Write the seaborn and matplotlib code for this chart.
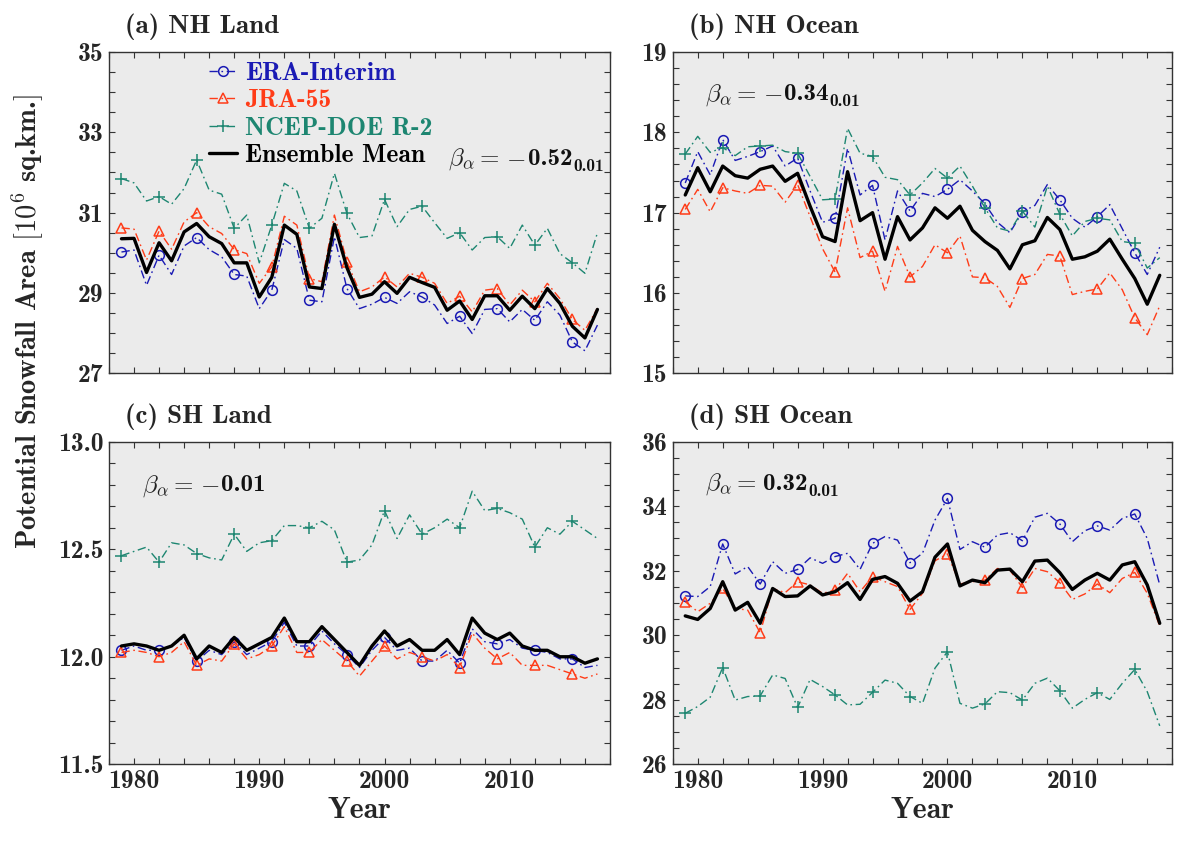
import numpy as np
import pandas as pd
import matplotlib
matplotlib.use("Agg")
import matplotlib.pyplot as plt
import seaborn as sns
from matplotlib.ticker import MultipleLocator, FormatStrFormatter, FixedLocator
from matplotlib.transforms import offset_copy

# ---------------- data ----------------
years = list(range(1979, 2018))

nh_land_era = [30.02, 30.07, 29.19, 29.94, 29.46, 30.17, 30.38, 30.08, 29.90, 29.46,
               29.42, 28.61, 29.07, 30.33, 30.11, 28.82, 28.78, 30.40, 29.11, 28.61,
               28.72, 28.89, 28.74, 29.03, 28.90, 28.70, 28.24, 28.42, 27.99, 28.59,
               28.61, 28.28, 28.59, 28.32, 28.78, 28.45, 27.78, 27.56, 28.20]
nh_land_jra = [30.62, 30.59, 29.82, 30.54, 30.09, 30.77, 31.00, 30.65, 30.48, 30.08,
               29.98, 29.24, 29.65, 30.91, 30.69, 29.36, 29.28, 30.94, 29.78, 29.03,
               29.15, 29.40, 29.15, 29.49, 29.39, 29.24, 28.74, 28.92, 28.53, 29.07,
               29.11, 28.70, 29.07, 28.78, 29.24, 28.86, 28.34, 28.07, 28.62]
nh_land_ncep = [31.85, 31.74, 31.29, 31.40, 31.21, 31.60, 32.31, 31.56, 31.46, 30.61,
                30.94, 29.75, 30.69, 31.73, 31.54, 30.61, 30.86, 31.98, 30.98, 30.38,
                30.42, 31.33, 30.65, 31.08, 31.16, 30.75, 30.36, 30.50, 30.07, 30.38,
                30.40, 30.11, 30.69, 30.19, 30.61, 29.98, 29.75, 29.49, 30.50]
nh_land_ens = [30.35, 30.36, 29.51, 30.25, 29.80, 30.52, 30.73, 30.40, 30.23, 29.75,
               29.75, 28.90, 29.39, 30.69, 30.46, 29.15, 29.11, 30.71, 29.63, 28.89,
               28.97, 29.28, 28.99, 29.39, 29.26, 29.14, 28.57, 28.80, 28.34, 28.93,
               28.93, 28.57, 28.92, 28.61, 29.11, 28.74, 28.17, 27.88, 28.59]

nh_ocean_era = [17.37, 17.76, 17.47, 17.91, 17.65, 17.70, 17.76, 17.83, 17.58, 17.68,
                17.27, 16.88, 16.93, 17.80, 17.22, 17.34, 16.66, 17.27, 17.02, 17.24,
                17.20, 17.29, 17.41, 17.27, 17.11, 16.88, 16.75, 17.01, 17.09, 17.35,
                17.16, 16.93, 16.82, 16.95, 17.10, 16.80, 16.50, 16.23, 16.57]
nh_ocean_jra = [17.04, 17.29, 17.01, 17.31, 17.27, 17.24, 17.34, 17.33, 17.13, 17.35,
                16.95, 16.55, 16.26, 17.06, 16.44, 16.52, 16.02, 16.58, 16.20, 16.33,
                16.60, 16.50, 16.71, 16.20, 16.19, 16.08, 15.82, 16.18, 16.23, 16.48,
                16.46, 15.98, 16.02, 16.05, 16.25, 16.04, 15.69, 15.48, 15.84]
nh_ocean_ncep = [17.73, 17.95, 17.75, 17.81, 17.71, 17.82, 17.83, 17.84, 17.76, 17.74,
                 17.45, 17.16, 17.17, 18.05, 17.74, 17.70, 17.44, 17.41, 17.22, 17.37,
                 17.55, 17.43, 17.58, 17.33, 17.06, 16.81, 16.77, 17.02, 16.82, 17.33,
                 16.98, 16.71, 16.89, 16.93, 16.91, 16.64, 16.62, 16.31, 16.44]
nh_ocean_ens = [17.22, 17.56, 17.26, 17.58, 17.46, 17.43, 17.54, 17.58, 17.39, 17.49,
                17.08, 16.70, 16.64, 17.51, 16.90, 17.00, 16.42, 16.95, 16.66, 16.81,
                17.06, 16.93, 17.08, 16.78, 16.64, 16.53, 16.30, 16.60, 16.65, 16.94,
                16.79, 16.42, 16.45, 16.52, 16.67, 16.42, 16.18, 15.86, 16.22]

sh_land_era = [12.03, 12.05, 12.03, 12.03, 12.05, 12.09, 11.98, 12.03, 12.01, 12.07,
               12.01, 12.04, 12.07, 12.16, 12.05, 12.05, 12.12, 12.06, 12.01, 11.95,
               12.03, 12.09, 12.03, 12.04, 11.98, 11.98, 12.03, 11.97, 12.13, 12.07,
               12.06, 12.08, 12.04, 12.03, 12.02, 11.99, 11.99, 11.95, 11.96]
sh_land_jra = [12.02, 12.03, 12.02, 12.00, 12.02, 12.07, 11.96, 11.99, 11.98, 12.06,
               11.99, 12.01, 12.05, 12.14, 12.02, 12.02, 12.08, 12.03, 11.98, 11.91,
               11.98, 12.05, 11.99, 12.02, 12.00, 11.98, 12.01, 11.95, 12.11, 12.04,
               11.99, 12.02, 11.96, 11.96, 11.96, 11.94, 11.92, 11.90, 11.92]
sh_land_ncep = [12.47, 12.49, 12.51, 12.44, 12.53, 12.52, 12.48, 12.46, 12.45, 12.57,
                12.49, 12.53, 12.54, 12.61, 12.61, 12.60, 12.63, 12.59, 12.44, 12.45,
                12.52, 12.68, 12.55, 12.66, 12.57, 12.60, 12.64, 12.60, 12.77, 12.68,
                12.69, 12.67, 12.64, 12.51, 12.60, 12.57, 12.63, 12.59, 12.55]
sh_land_ens = [12.05, 12.06, 12.05, 12.03, 12.05, 12.10, 11.99, 12.05, 12.02, 12.09,
               12.03, 12.06, 12.09, 12.18, 12.07, 12.07, 12.14, 12.08, 12.02, 11.96,
               12.05, 12.12, 12.05, 12.08, 12.03, 12.03, 12.08, 12.01, 12.18, 12.11,
               12.08, 12.11, 12.05, 12.03, 12.03, 12.00, 12.00, 11.97, 11.99]

sh_ocean_era = [31.22, 31.20, 31.51, 32.83, 31.90, 32.13, 31.59, 32.28, 31.92, 32.04,
                32.40, 32.23, 32.44, 32.54, 32.04, 32.85, 33.06, 32.95, 32.25, 32.54,
                33.57, 34.24, 32.66, 32.90, 32.73, 33.11, 33.18, 32.93, 33.66, 33.78,
                33.45, 32.90, 33.24, 33.39, 33.26, 33.62, 33.76, 33.00, 31.56]
sh_ocean_jra = [31.04, 30.73, 30.99, 31.45, 30.83, 30.78, 30.08, 31.45, 31.32, 31.66,
                31.56, 31.30, 31.40, 31.92, 31.35, 31.82, 31.66, 31.51, 30.80, 31.30,
                32.31, 32.52, 31.59, 31.66, 31.71, 32.07, 32.02, 31.48, 32.07, 31.97,
                31.63, 31.11, 31.28, 31.59, 31.32, 31.76, 31.95, 31.30, 30.29]
sh_ocean_ncep = [27.58, 27.79, 28.08, 29.00, 27.99, 28.10, 28.12, 28.77, 28.66, 27.76,
                 28.63, 28.41, 28.15, 27.84, 27.86, 28.23, 28.61, 28.51, 28.10, 27.89,
                 28.98, 29.49, 27.89, 27.74, 27.87, 28.25, 28.22, 27.99, 28.51, 28.67,
                 28.28, 27.74, 28.01, 28.22, 28.01, 28.51, 28.94, 28.25, 27.19]
sh_ocean_ens = [30.60, 30.49, 30.83, 31.66, 30.78, 31.02, 30.37, 31.45, 31.20, 31.22,
                31.53, 31.25, 31.35, 31.63, 31.11, 31.73, 31.82, 31.61, 31.06, 31.35,
                32.42, 32.83, 31.53, 31.71, 31.63, 32.02, 32.05, 31.66, 32.30, 32.33,
                31.94, 31.42, 31.71, 31.92, 31.71, 32.18, 32.28, 31.56, 30.37]

series_names = ["ERA-Interim", "JRA-55", "NCEP-DOE R-2", "Ensemble Mean"]
panel_titles = ["(a) NH Land", "(b) NH Ocean", "(c) SH Land", "(d) SH Ocean"]
beta_signs = ["-", "-", "-", ""]
beta_values = ["0.52", "0.34", "0.01", "0.32"]
beta_subs = ["0.01", "0.01", "", "0.01"]
yticks_list = [[27, 29, 31, 33, 35], [15, 16, 17, 18, 19],
               [11.5, 12.0, 12.5, 13.0], [26, 28, 30, 32, 34, 36]]
panel_data = [
    [nh_land_era, nh_land_jra, nh_land_ncep, nh_land_ens],
    [nh_ocean_era, nh_ocean_jra, nh_ocean_ncep, nh_ocean_ens],
    [sh_land_era, sh_land_jra, sh_land_ncep, sh_land_ens],
    [sh_ocean_era, sh_ocean_jra, sh_ocean_ncep, sh_ocean_ens],
]

# ---------------- style ----------------
sns.set_style("ticks")
plt.rcParams["font.family"] = ["cmb10", "DejaVu Serif"]
plt.rcParams["mathtext.fontset"] = "cm"
plt.rcParams["axes.unicode_minus"] = False
plt.rcParams["axes.formatter.use_mathtext"] = False

colors = ["#1a1ab4", "#ff3c18", "#1d8671", "#000000"]
markers = ["o", "^", "+", None]
dashdot = (0, (6, 2.6, 1.2, 2.6))

fig = plt.figure(figsize=(11.78, 8.43), dpi=100)
positions = [[0.0925, 0.5572, 0.4253, 0.3811],
             [0.5711, 0.5572, 0.4240, 0.3811],
             [0.0925, 0.0934, 0.4253, 0.3826],
             [0.5711, 0.0934, 0.4240, 0.3826]]
ylims = [(27, 35), (15, 19), (11.5, 13.0), (26, 36)]
yminor = [0.5, 0.2, 0.1, 0.5]
beta_pos = [(0.677, 0.648), (0.064, 0.85), (0.065, 0.846), (0.064, 0.85)]

axes = []
for i in range(4):
    ax = fig.add_axes(positions[i])
    axes.append(ax)
    ax.set_facecolor("#ebebeb")
    for j in range(4):
        df = pd.DataFrame({"year": years, "value": panel_data[i][j]})
        if j < 3:
            sns.lineplot(data=df, x="year", y="value", ax=ax, color=colors[j],
                         linestyle=dashdot, linewidth=1.0, marker=markers[j],
                         markevery=3, markersize=7 if j < 2 else 9,
                         markerfacecolor="none", markeredgecolor=colors[j],
                         markeredgewidth=1.1, label=series_names[j],
                         errorbar=None, zorder=2)
        else:
            sns.lineplot(data=df, x="year", y="value", ax=ax, color=colors[j],
                         linestyle="-", linewidth=2.4, label=series_names[j],
                         errorbar=None, zorder=3)
    ax.set_xlim(1978, 2018)
    ax.set_ylim(*ylims[i])
    ax.xaxis.set_major_locator(FixedLocator([1980, 1990, 2000, 2010]))
    ax.xaxis.set_minor_locator(MultipleLocator(2))
    ax.yaxis.set_major_locator(FixedLocator(yticks_list[i]))
    ax.yaxis.set_minor_locator(MultipleLocator(yminor[i]))
    if i == 2:
        ax.yaxis.set_major_formatter(FormatStrFormatter("%.1f"))
    else:
        ax.yaxis.set_major_formatter(FormatStrFormatter("%d"))
    ax.tick_params(which="both", direction="in", top=True, right=True,
                   length=4, width=0.8, color="#333333")
    ax.tick_params(which="major", labelsize=18.5, pad=4)
    for s in ax.spines.values():
        s.set_color("#333333")
        s.set_linewidth(1.0)
    ax.set_ylabel("")
    if i >= 2:
        ax.set_xlabel("Year", fontsize=21.5, labelpad=3)
    else:
        ax.set_xlabel("")
    if i < 2:
        ax.set_xticklabels([])
    ax.text(0.032, 1.058, panel_titles[i], transform=ax.transAxes,
            fontsize=19.5, ha="left", va="baseline")
    if i == 0:
        h, l = ax.get_legend_handles_labels()
        leg = ax.legend(h, l, loc="upper left", bbox_to_anchor=(0.2, 0.968),
                        frameon=False, fontsize=18.5, handlelength=1.1,
                        handletextpad=0.3, labelspacing=0.16, borderpad=0,
                        borderaxespad=0)
        for txt, c in zip(leg.get_texts(), colors):
            txt.set_color(c)
    else:
        lg = ax.get_legend()
        if lg is not None:
            lg.remove()

fig.text(0.024, 0.618, r"Potential Snowfall Area $[10^6$ sq.km.$]$", rotation=90,
         ha="center", va="center", fontsize=20.5)

# beta annotations: math prefix + bold value + bold subscript
fig.canvas.draw()
renderer = fig.canvas.get_renderer()
to_pt = 72.0 / fig.dpi
for i, ax in enumerate(axes):
    x0, y0 = beta_pos[i]
    prefix = r"$\beta_\alpha = $"
    t1 = ax.text(x0, y0, prefix, transform=ax.transAxes, fontsize=18,
                 ha="left", va="baseline", color="#222222")
    w1 = t1.get_window_extent(renderer).width * to_pt + 5
    if beta_signs[i]:
        tm = ax.text(x0, y0, r"$-$", fontsize=18, ha="left", va="baseline",
                     color="#111111", fontweight="bold",
                     transform=offset_copy(ax.transAxes, fig=fig, x=w1, y=0,
                                           units="points"))
        tm.set_path_effects([])
        w1 += tm.get_window_extent(renderer).width * to_pt + 1.5
    t2 = ax.text(x0, y0, beta_values[i], fontsize=18, ha="left", va="baseline",
                 color="#111111",
                 transform=offset_copy(ax.transAxes, fig=fig, x=w1, y=0,
                                       units="points"))
    w2 = t2.get_window_extent(renderer).width * to_pt
    if beta_subs[i]:
        ax.text(x0, y0, beta_subs[i], fontsize=12.5, ha="left", va="baseline",
                color="#111111",
                transform=offset_copy(ax.transAxes, fig=fig, x=w1 + w2 + 0.5,
                                      y=-4, units="points"))

fig.savefig("out.png", dpi=100)
